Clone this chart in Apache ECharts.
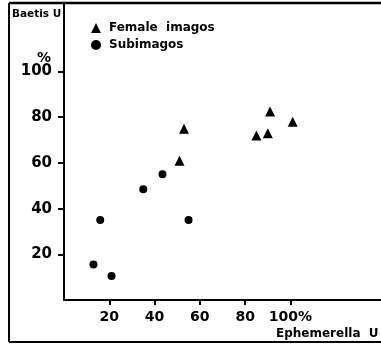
<!DOCTYPE html>
<html>
<head>
    <meta charset="UTF-8">
    <title>Baetis U vs Ephemerella U</title>
    <style>html,body{margin:0;padding:0;background:#fff;}</style>
</head>
<body>
    <div id="main" style="width:381px;height:345px"></div>
    <script src="https://cdn.jsdelivr.net/npm/echarts@6/dist/echarts.min.js"></script>
    <script>
        // Ephemerella U (x, %) vs Baetis U (y, %)
        var femaleX = [51, 53, 85, 90, 91, 101];
        var femaleY = [61, 75, 72, 73, 82.5, 78];
        var subX = [13, 16, 21, 35, 43.5, 55];
        var subY = [15.5, 35, 10.5, 48.5, 55, 35];
        var tickValues = [20, 40, 60, 80, 100];

        function pairs(xs, ys) {
            var out = [];
            for (var i = 0; i < xs.length; i++) out.push([xs[i], ys[i]]);
            return out;
        }

        var app = echarts.init(document.getElementById('main'));
        var fnt = 'DejaVu Sans';
        option = {
            animation: false,
            grid: {left: 64, top: 3, right: 0, bottom: 45},
            legend: {
                orient: 'vertical',
                left: 86, top: 17,
                itemWidth: 10, itemHeight: 10, itemGap: 5,
                textStyle: {fontFamily: fnt, fontWeight: 'bold', fontSize: 12, color: '#000', padding: [0, 0, 0, 3]},
                data: [
                    {name: 'Female  imagos', icon: 'triangle'},
                    {name: 'Subimagos', icon: 'circle'}
                ]
            },
            xAxis: {
                type: 'value', min: 0, max: 140,
                splitLine: {show: false},
                axisLine: {lineStyle: {color: '#000', width: 2}},
                axisTick: {customValues: tickValues, length: 5, lineStyle: {color: '#000', width: 2}},
                axisLabel: {
                    customValues: tickValues, margin: 10,
                    fontFamily: fnt, fontWeight: 'bold', fontSize: 14, color: '#000',
                    formatter: function (v) { return v == 100 ? '100%' : v; }
                }
            },
            yAxis: {
                type: 'value', min: 0, max: 130,
                splitLine: {show: false},
                axisLine: {lineStyle: {color: '#000', width: 2}},
                axisTick: {customValues: tickValues, length: 6, lineStyle: {color: '#000', width: 2}},
                axisLabel: {
                    customValues: tickValues, margin: 12,
                    fontFamily: fnt, fontWeight: 'bold', fontSize: 15, color: '#000'
                }
            },
            graphic: [
                {type: 'line', shape: {x1: 9, y1: 3, x2: 381, y2: 3}, style: {stroke: '#000', lineWidth: 2.5}},
                {type: 'line', shape: {x1: 9, y1: 3, x2: 9, y2: 342}, style: {stroke: '#000', lineWidth: 2}},
                {type: 'line', shape: {x1: 9, y1: 342, x2: 381, y2: 342}, style: {stroke: '#000', lineWidth: 2}},
                {type: 'text', left: 12, top: 9, style: {text: 'Baetis U', font: 'bold 10.5px "DejaVu Sans"', fill: '#000'}},
                {type: 'text', left: 37, top: 51, style: {text: '%', font: 'bold 14px "DejaVu Sans"', fill: '#000'}},
                {type: 'text', left: 276, top: 328, style: {text: 'Ephemerella  U', font: 'bold 12px "DejaVu Sans"', fill: '#000'}}
            ],
            series: [
                {
                    name: 'Female  imagos',
                    type: 'scatter',
                    symbol: 'triangle',
                    symbolSize: 10,
                    itemStyle: {color: '#000', opacity: 1},
                    data: pairs(femaleX, femaleY)
                },
                {
                    name: 'Subimagos',
                    type: 'scatter',
                    symbol: 'circle',
                    symbolSize: 8,
                    itemStyle: {color: '#000', opacity: 1},
                    data: pairs(subX, subY)
                }
            ]
        };
        app.setOption(option);
    </script>
</body>
</html>
